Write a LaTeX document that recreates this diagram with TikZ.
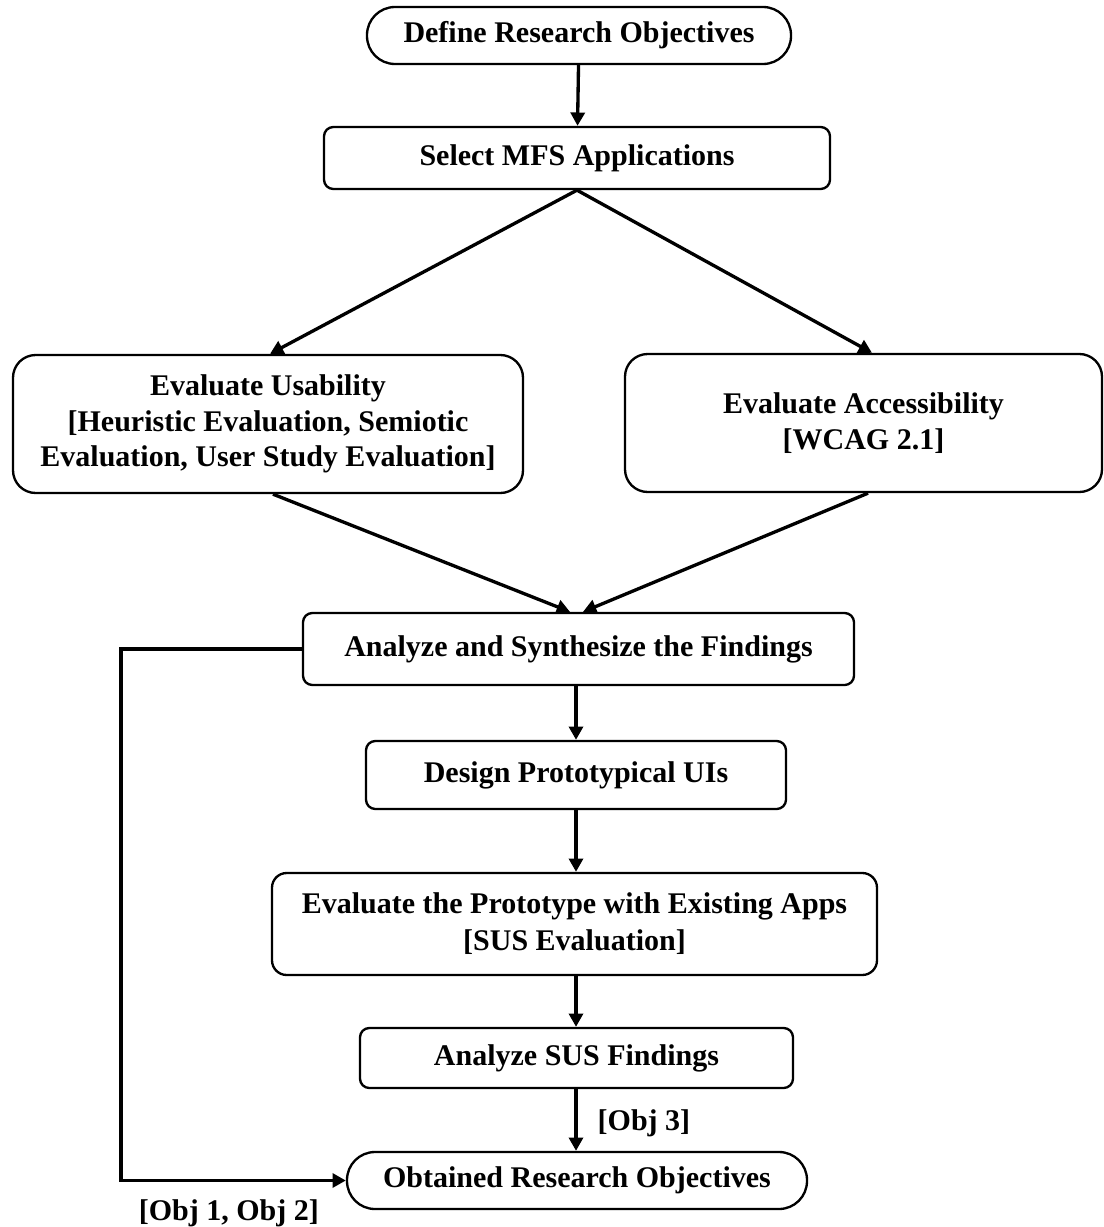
\documentclass[tikz,border=0pt]{standalone}
\usepackage{fontspec}
\setmainfont{Liberation Serif}
\usetikzlibrary{arrows.meta, calc}
\tikzset {
    >={Triangle[length=10pt, width=10.5pt]},
    flow/.style={->, line width=2.5pt},
    box/.style={draw, line width=1.75pt, rounded corners=7pt, inner sep=0pt,
        align=center, font=\fontsize{22.5}{26.6}\selectfont\bfseries},
    pill/.style={box, rounded corners=21pt},
    big box/.style={box, rounded corners=17pt},
    tag/.style={inner sep=0pt, font=\fontsize{22.5}{26.6}\selectfont\bfseries}
}

\begin{document}
\begin{tikzpicture}[x=0.75pt, y=-0.75pt]
    \useasboundingbox (0,0) rectangle (1103,1227);

    \node[pill, minimum width=318pt, minimum height=42.75pt] (define) at (579,35.5) {Define Research Objectives};
    \node[box, minimum width=379.5pt, minimum height=46.5pt] (select) at (577,158) {Select MFS Applications};
    \node[big box, minimum width=382.5pt, minimum height=103.5pt] (usab) at (268,424)
        {Evaluate Usability\\{[Heuristic Evaluation, Semiotic}\\Evaluation, User Study Evaluation]};
    \node[big box, minimum width=357.75pt, minimum height=103.5pt] (access) at (863.5,423)
        {Evaluate Accessibility\\{[WCAG 2.1]}};
    \node[box, minimum width=413.25pt, minimum height=54pt] (synth) at (578.5,649) {Analyze and Synthesize the Findings};
    \node[box, minimum width=315pt, minimum height=51pt] (design) at (576,775) {Design Prototypical UIs};
    \node[box, rounded corners=11pt, minimum width=453.75pt, minimum height=76.5pt,
        font=\fontsize{22.5}{27.8}\selectfont\bfseries] (proto) at (574.5,924)
        {Evaluate the Prototype with Existing Apps\\{[SUS Evaluation]}};
    \node[box, minimum width=324.75pt, minimum height=45pt] (sus) at (576.5,1058) {Analyze SUS Findings};
    \node[pill, minimum width=345pt, minimum height=42.75pt] (obtained) at (577,1180.5) {Obtained Research Objectives};

    \draw[flow] (define) -- (select);
    \draw[flow] (select.south) -- ($(usab.north)+(2,0)$);
    \draw[flow] (select.south) -- ($(access.north)+(8.5,0)$);
    \draw[flow] ($(usab.south)+(5,0)$) -- ($(synth.north)+(-8.5,0)$);
    \draw[flow] ($(access.south)+(4.5,0)$) -- ($(synth.north)+(4.5,0)$);
    \draw[flow] (synth.south -| design.north) -- (design.north);
    \draw[flow] (design.south) -- (design.south |- proto.north);
    \draw[flow] (design.south |- proto.south) -- (design.south |- sus.north);
    \draw[flow] (design.south |- sus.south) -- (design.south |- obtained.north)
        node[tag, pos=0.55, right, xshift=15pt] {[Obj 3]};
    \draw[flow] (synth.west) -- ++(-181,0) |- (obtained.west)
        node[tag, pos=0.74, yshift=-24.5pt] {[Obj 1, Obj 2]};
\end{tikzpicture}
\end{document}
